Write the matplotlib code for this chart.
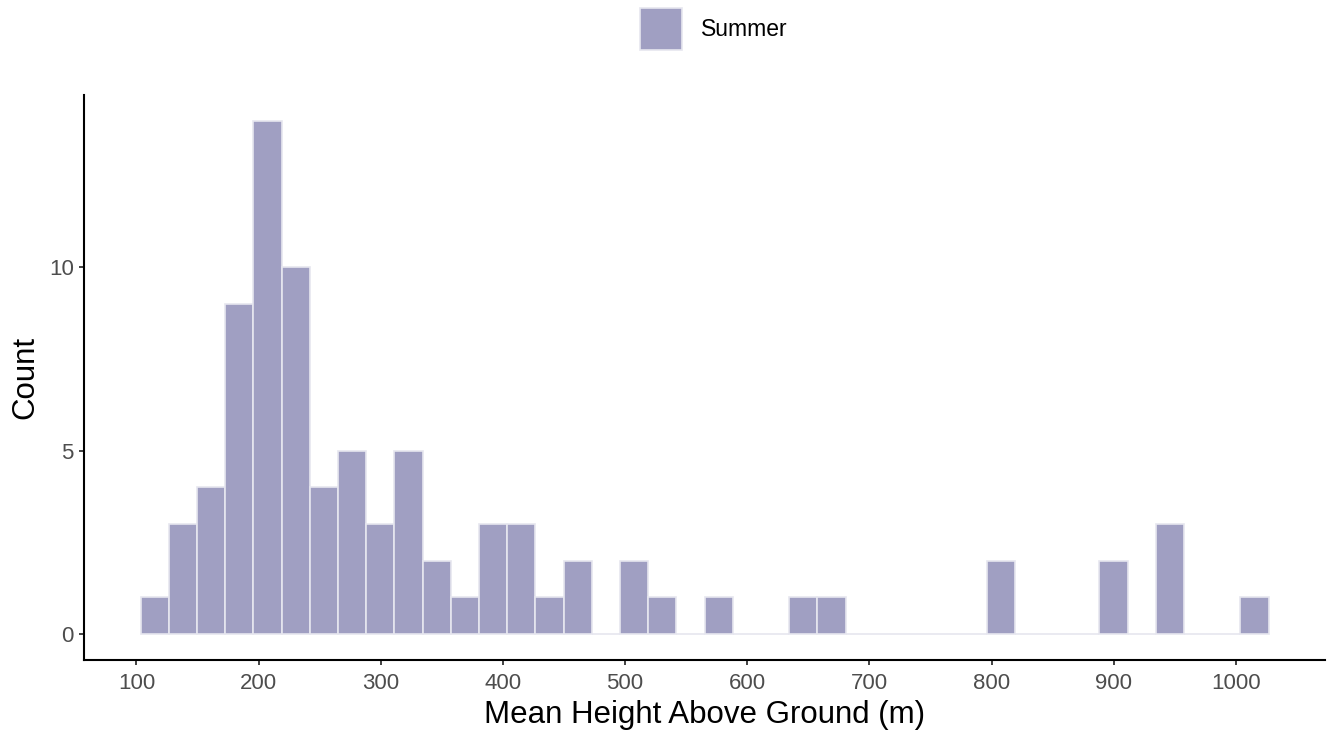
import matplotlib
matplotlib.use("Agg")
import matplotlib.pyplot as plt
from matplotlib.patches import Patch

# Histogram of mean height above ground (summer), 40 bins
bin_start = 103.5
bin_width = 23.08
counts = [1, 3, 4, 9, 14, 10, 4, 5, 3, 5,
          2, 1, 3, 3, 1, 2, 0, 2, 1, 0,
          1, 0, 0, 1, 1, 0, 0, 0, 0, 0,
          2, 0, 0, 0, 2, 0, 3, 0, 0, 1]
x_ticks = [100, 200, 300, 400, 500, 600, 700, 800, 900, 1000]
y_ticks = [0, 5, 10]
series_name = "Summer"

bar_color = "#a09fc2"
edge_color = "#e6e6ef"

plt.rcParams['font.family'] = ['Liberation Sans', 'DejaVu Sans']

lefts = [bin_start + i * bin_width for i in range(len(counts))]

fig = plt.figure(figsize=(13.27, 7.34), dpi=100)
ax = fig.add_axes([0.0635, 0.1012, 0.935, 0.7694])

ax.bar(lefts, counts, width=bin_width, align='edge', color=bar_color,
       edgecolor=edge_color, linewidth=1.2)

ax.set_xlim(57.3, 1072.9)
ax.set_ylim(-0.7, 14.7)
ax.set_xticks(x_ticks)
ax.set_yticks(y_ticks)

for side in ['top', 'right']:
    ax.spines[side].set_visible(False)
for side in ['left', 'bottom']:
    ax.spines[side].set_linewidth(1.5)
    ax.spines[side].set_color('black')

ax.tick_params(axis='both', length=3.6, width=1.3, color='#333333',
               labelsize=16, labelcolor='#4d4d4d')
ax.tick_params(axis='x', pad=6)
ax.tick_params(axis='y', pad=4)

ax.set_xlabel('Mean Height Above Ground (m)', fontsize=22.5, labelpad=4)
ax.set_ylabel('Count', fontsize=22.5, labelpad=6)

fig.legend(handles=[Patch(facecolor=bar_color, edgecolor=edge_color, linewidth=1.2)],
           labels=[series_name], loc='center', bbox_to_anchor=(714 / 1327, 0.960),
           frameon=False, fontsize=16.5, handlelength=1.83, handleheight=2.44,
           handletextpad=0.83)

fig.savefig('out.png', dpi=100)
